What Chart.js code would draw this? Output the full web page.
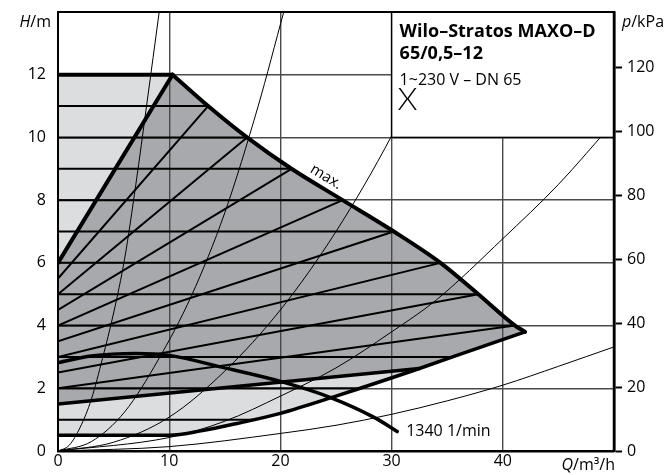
<!DOCTYPE html>
<html>
<head>
<meta charset="utf-8">
<script src="https://cdn.jsdelivr.net/npm/chart.js@4.4.1/dist/chart.umd.min.js"></script>
<style>
html, body { margin: 0; padding: 0; background: #fff; }
</style>
</head>
<body>
<canvas id="mycanvas" width="670" height="475"></canvas>
<script>
// max. curve of the pump (Q in m3/h, H in m)
var maxQ = [10.3, 13.5, 17, 21, 25.6, 30.2, 34.4, 37.8, 41.1, 42];
var maxH = [12, 11, 10, 9, 8, 7, 6, 5, 4, 3.8];
// lower limit of the field
var minQ = [0, 10, 13, 16, 20, 25, 32.5, 37.5, 42];
var minH = [0.5, 0.5, 0.65, 0.87, 1.2, 1.75, 2.63, 3.25, 3.8];
// 1340 1/min curve
var rpmQ = [0, 3, 7, 10, 15, 20, 24.4, 28.6, 30.5];
var rpmH = [2.82, 3.03, 3.11, 3.05, 2.65, 2.22, 1.72, 1.04, 0.62];
// dp-c lines (constant head) and where they stop
var dpcH = [1, 2, 3, 4, 5, 6, 7, 8, 9, 10, 11];
var dpcEndQ = [17.6, 27.1, 35.5, 41.1, 37.8, 34.4, 30.2, 25.6, 21, 17, 13.5];
// dp-v lines
var dpvStartH = [5.5, 5, 4.5, 4, 3.5, 3, 2.5, 2];
var dpvEndQ = [13.5, 17, 21, 25.6, 30.2, 34.4, 37.8, 41.1];
var dpvEndH = [11, 10, 9, 8, 7, 6, 5, 4];
// outer dp-v lines (thick)
var topQ = [0, 10.3], topH = [12, 12];
var leftQ = [0, 10.3], leftH = [6, 12];
var lowQ = [0, 32.5], lowH = [1.5, 2.63];
// system curves
var sys1Q = [0, 1, 2, 3, 4, 5, 6, 7, 8, 9.1];
var sys1H = [0, 0.18, 0.76, 1.65, 2.95, 4.4, 6.15, 8.5, 11.1, 14];
var sys2Q = [0, 3, 6, 9, 12, 15, 18, 20.3];
var sys2H = [0, 0.3, 1.25, 2.9, 4.95, 7.6, 11, 14];
var sys3Q = [0, 5, 10, 15, 20, 25, 30, 35.4];
var sys3H = [0, 0.28, 1.08, 2.55, 4.5, 7.0, 10.05, 14];
var sys4Q = [0, 10, 15, 20, 25, 30, 34, 40, 45, 50];
var sys4H = [0, 0.43, 0.95, 1.75, 2.65, 3.8, 4.81, 6.77, 8.5, 10.5];
var sys5Q = [0, 10, 20, 25, 30, 35, 40, 45, 50];
var sys5H = [0, 0.14, 0.56, 0.82, 1.17, 1.6, 2.1, 2.7, 3.32];

var FONT = '"Open Sans", "Noto Sans", sans-serif';
var DARK = '#a8a9ac';
var LIGHT = '#dcdddf';

Chart.defaults.font.family = FONT;
Chart.defaults.color = '#000';

function pts(qs, hs) {
	return qs.map(function(q, i) { return {x: q, y: hs[i]}; });
}

function line(data, width, order, smooth) {
	return {
		data: data,
		showLine: true,
		borderColor: '#000',
		borderWidth: width,
		pointRadius: 0,
		fill: false,
		tension: smooth ? 0.4 : 0,
		cubicInterpolationMode: smooth ? 'monotone' : 'default',
		borderCapStyle: 'round',
		borderJoinStyle: 'round',
		order: order
	};
}

function area(data, color) {
	return {
		data: data,
		showLine: true,
		borderColor: 'rgba(0,0,0,0)',
		borderWidth: 0,
		backgroundColor: color,
		fill: 'shape',
		pointRadius: 0,
		order: 50
	};
}

// fill polygons built from the curves
var lowerIdx = minQ.indexOf(lowQ[1]);
var lightTop = pts([0, 0, topQ[1], 0], [leftH[0], topH[0], topH[1], leftH[0]]);
var lightLow = pts(minQ.slice(0, lowerIdx + 1).concat([0, 0]), minH.slice(0, lowerIdx + 1).concat([lowH[0], minH[0]]));
var darkPoly = [{x: 0, y: leftH[0]}].concat(pts(maxQ, maxH));
for (var i = minQ.length - 2; i >= lowerIdx; i--) darkPoly.push({x: minQ[i], y: minH[i]});
darkPoly.push({x: 0, y: lowH[0]}, {x: 0, y: leftH[0]});

var datasets = [area(lightTop, LIGHT), area(lightLow, LIGHT), area(darkPoly, DARK)];

[[sys1Q, sys1H], [sys2Q, sys2H], [sys3Q, sys3H], [sys4Q, sys4H], [sys5Q, sys5H]].forEach(function(s) {
	datasets.push(line(pts(s[0], s[1]), 1, 30, true));
});
dpcH.forEach(function(h, i) {
	datasets.push(line(pts([0, dpcEndQ[i]], [h, h]), 2, 20, false));
});
dpvStartH.forEach(function(h, i) {
	datasets.push(line(pts([0, dpvEndQ[i]], [h, dpvEndH[i]]), 2, 20, false));
});
datasets.push(line(pts(topQ, topH), 4, 5, false));
datasets.push(line(pts(leftQ, leftH), 4, 5, false));
datasets.push(line(pts(lowQ, lowH), 3.5, 5, false));
datasets.push(line(pts(maxQ, maxH), 4, 4, true));
datasets.push(line(pts(minQ, minH), 3.5, 4, true));
datasets.push(line(pts(rpmQ, rpmH), 3.5, 3, true));

function drawParts(ctx, parts, x, y, align, size) {
	var w = 0;
	parts.forEach(function(p) {
		ctx.font = p[1] + ' ' + size + 'px ' + FONT;
		w += ctx.measureText(p[0]).width;
	});
	var cx = align === 'right' ? x - w : x;
	ctx.textAlign = 'left';
	parts.forEach(function(p) {
		ctx.font = p[1] + ' ' + size + 'px ' + FONT;
		ctx.fillText(p[0], cx, y);
		cx += ctx.measureText(p[0]).width;
	});
}

// keep the plot frame where the original has it
function fixPadding(s) {
	s.paddingTop = 0;
	s.paddingBottom = 0;
	s.paddingLeft = 0;
	s.paddingRight = 0;
}

var overlay = {
	id: 'overlay',
	afterDatasetsDraw: function(chart) {
		var ctx = chart.ctx;
		var a = chart.chartArea;
		var xs = chart.scales.x, ys = chart.scales.y;
		var px = function(q) { return xs.getPixelForValue(q); };
		var py = function(h) { return ys.getPixelForValue(h); };
		ctx.save();

		// type box
		var bx = px(30), by = py(14), bw = px(50) - bx, bh = py(10) - by;
		ctx.fillStyle = '#fff';
		ctx.fillRect(bx, by, bw, bh);
		ctx.strokeStyle = '#000';
		ctx.lineWidth = 1.5;
		ctx.strokeRect(bx, by, bw, bh);

		// frame
		ctx.lineWidth = 2;
		ctx.beginPath();
		ctx.moveTo(a.left, a.top);
		ctx.lineTo(a.right, a.top);
		ctx.stroke();
		ctx.lineWidth = 2.5;
		ctx.beginPath();
		ctx.moveTo(a.right, a.top);
		ctx.lineTo(a.right, a.bottom);
		ctx.stroke();

		ctx.fillStyle = '#000';
		ctx.textBaseline = 'alphabetic';
		ctx.textAlign = 'left';
		ctx.font = 'bold 18px ' + FONT;
		ctx.fillText('Wilo–Stratos MAXO–D', bx + 8, by + 25);
		ctx.fillText('65/0,5–12', bx + 8, by + 46.5);
		ctx.font = '16px ' + FONT;
		ctx.fillText('1~230 V – DN 65', bx + 8, by + 73);
		ctx.font = '300 32px Lato, ' + FONT;
		ctx.fillText('X', bx + 6, by + 98);

		// curve labels
		ctx.font = '16px ' + FONT;
		ctx.textBaseline = 'middle';
		ctx.fillText('1340 1/min', px(rpmQ[rpmQ.length - 1]) + 9, py(rpmH[rpmH.length - 1]));
		var ang = Math.atan2(py(maxH[4]) - py(maxH[3]), px(maxQ[4]) - px(maxQ[3]));
		ctx.save();
		ctx.translate(px(24.1), py(8.74));
		ctx.rotate(ang);
		ctx.textAlign = 'center';
		ctx.font = '15px ' + FONT;
		ctx.fillText('max.', 0, 0);
		ctx.restore();

		// axis titles
		ctx.textBaseline = 'alphabetic';
		drawParts(ctx, [['H', 'italic'], ['/m', 'normal']], a.left - 7, a.top + 15, 'right', 16);
		drawParts(ctx, [['p', 'italic'], ['/kPa', 'normal']], a.right + 8, a.top + 15, 'left', 16);
		drawParts(ctx, [['Q', 'italic'], ['/m³/h', 'normal']], a.right + 1, a.bottom + 19, 'right', 16);
		ctx.restore();
	}
};

var ctx = document.getElementById('mycanvas');

var pumpChart = new Chart(ctx, {
	type: 'scatter',
	data: {datasets: datasets},
	options: {
		responsive: false,
		devicePixelRatio: 1,
		animation: false,
		events: [],
		layout: {padding: {top: 12, left: 0, right: 0, bottom: 0}},
		plugins: {
			legend: {display: false},
			tooltip: {enabled: false},
			filler: {drawTime: 'beforeDraw'}
		},
		scales: {
			x: {
				type: 'linear', min: 0, max: 50,
				ticks: {stepSize: 10, padding: 1, maxRotation: 0, font: {size: 16},
					callback: function(v) { return v === 50 ? '' : v; }},
				grid: {color: '#4a4a4a', lineWidth: 1.4, drawTicks: false},
				border: {color: '#000', width: 2.5},
				afterFit: function(s) { s.height = 24; fixPadding(s); }
			},
			y: {
				min: 0, max: 14,
				ticks: {stepSize: 2, padding: 12, font: {size: 16},
					callback: function(v) { return v === 14 ? '' : v; }},
				grid: {color: '#4a4a4a', lineWidth: 1.4, drawTicks: false},
				border: {color: '#000', width: 2},
				afterFit: function(s) { s.width = 58; fixPadding(s); }
			},
			y2: {
				position: 'right', min: 0, max: 14 * 9.81,
				ticks: {stepSize: 20, includeBounds: false, padding: 5, font: {size: 16}},
				grid: {drawOnChartArea: false, drawTicks: true, tickLength: 8, tickColor: '#000', tickWidth: 2},
				border: {color: '#000', width: 2.5},
				afterFit: function(s) { s.width = 56; fixPadding(s); }
			}
		}
	},
	plugins: [overlay]
});
</script>
</body>
</html>
